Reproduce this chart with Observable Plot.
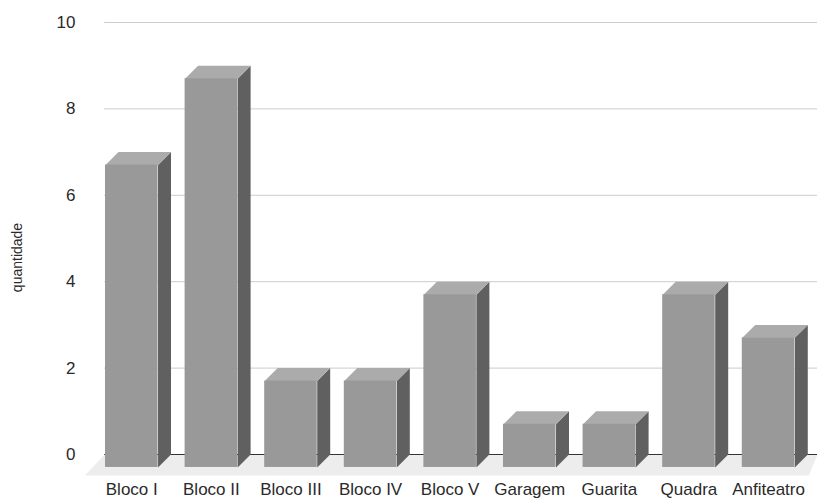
<!DOCTYPE html>
<html>
<head>
<meta charset="utf-8">
<script src="https://cdn.jsdelivr.net/npm/d3@7"></script>
<script src="https://cdn.jsdelivr.net/npm/@observablehq/plot@0.6"></script>
<style>
html,body{margin:0;padding:0;background:#fff;}
svg{display:block;}
</style>
</head>
<body>
<div id="chart"></div>
<script>
const categories = ["Bloco I","Bloco II","Bloco III","Bloco IV","Bloco V","Garagem","Guarita","Quadra","Anfiteatro"];
const quantities = [7,9,2,2,4,1,1,4,3];
const yTicks = [0,2,4,6,8,10];

// bar geometry in scale units
const barW = 0.66, depthX = 0.163, depthY = 0.3;
const bars = categories.map((name,i)=>({name,i,v:quantities[i]}));

const topFaces = bars.flatMap(b=>[
  [b.i,b.v-depthY],[b.i+barW,b.v-depthY],[b.i+barW+depthX,b.v],[b.i+depthX,b.v]
].map(([x,y])=>({x,y,k:b.name})));
const sideFaces = bars.flatMap(b=>[
  [b.i+barW,b.v-depthY],[b.i+barW+depthX,b.v],[b.i+barW+depthX,0],[b.i+barW,-depthY]
].map(([x,y])=>({x,y,k:b.name})));
const floorXMin = -0.01, floorXMax = 8.945, floorDX = 0.25, floorDY = 0.486;
const floor = [
  {x:floorXMin,y:0},{x:floorXMax,y:0},{x:floorXMax-0.11,y:-floorDY},{x:floorXMin-floorDX,y:-floorDY}
];

const chart = Plot.plot({
  width:817, height:499,
  marginLeft:105, marginRight:0, marginTop:22, marginBottom:45,
  style:{fontFamily:"'Liberation Sans',Arial,sans-serif",background:"#fff",overflow:"visible"},
  x:{domain:[0,8.945],axis:null},
  y:{domain:[0,10],axis:null},
  marks:[
    Plot.line(floor,{x:"x",y:"y",fill:"#ededed",stroke:"none"}),
    Plot.ruleY(yTicks.filter(d=>d>0),{x1:()=>floorXMin,x2:()=>floorXMax,stroke:"#cccccc",strokeWidth:1}),
    Plot.ruleY([0],{x1:()=>floorXMin,x2:()=>floorXMax,stroke:"#333333",strokeWidth:1}),
    Plot.line(sideFaces,{x:"x",y:"y",z:"k",fill:"#606060",stroke:"none"}),
    Plot.line(topFaces,{x:"x",y:"y",z:"k",fill:"#ababab",stroke:"none"}),
    Plot.rect(bars,{x1:"i",x2:d=>d.i+barW,y1:()=>-depthY,y2:d=>d.v-depthY,fill:"#999999"}),
    Plot.axisY({ticks:yTicks,tickSize:0,tickPadding:30,label:null,fontSize:17,color:"#2a2a2a"}),
    Plot.text(bars,{x:d=>d.i+barW/2,y:()=>0,text:"name",dy:35.5,fontSize:17,fill:"#2a2a2a"}),
    Plot.text(["quantidade"],{x:()=>-1.105,y:()=>4.56,rotate:-90,fontSize:14,fill:"#2a2a2a"})
  ]
});
document.getElementById("chart").append(chart);
</script>
</body>
</html>
